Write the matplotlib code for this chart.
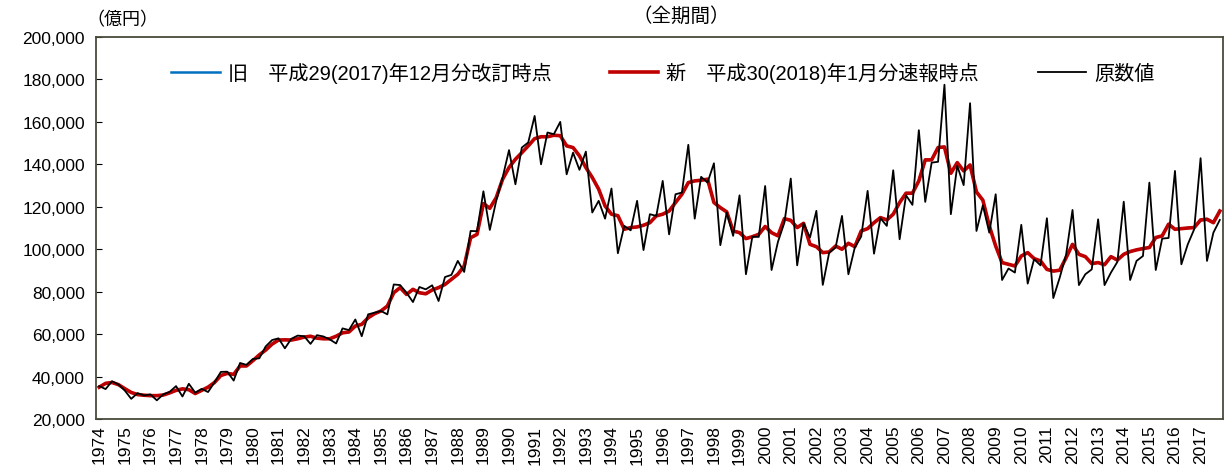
import numpy as np
import matplotlib.pyplot as plt
from matplotlib.ticker import FuncFormatter

# quarterly series, 1974Q1 - 2017Q4 (億円)
years = list(range(1974, 2018))

raw_values = [
    35500, 34100, 37800, 36300, 33400, 29500, 32200, 31100,   # 1974-75
    31600, 28800, 31600, 32800, 35500, 30600, 36600, 32400,   # 1976-77
    34200, 32700, 37300, 42200, 42300, 38100, 46400, 45500,   # 1978-79
    48300, 48600, 54200, 57200, 58000, 53300, 57800, 59300,   # 1980-81
    59000, 55400, 59500, 58900, 57500, 55600, 62700, 61900,   # 1982-83
    66900, 59000, 69300, 70100, 70900, 69300, 83400, 83100,   # 1984-85
    79500, 75100, 82200, 81100, 83000, 75600, 86900, 87900,   # 1986-87
    94500, 89300, 108600, 108500, 127300, 109100, 122800, 133800,  # 1988-89
    146700, 130600, 147900, 150300, 162800, 140000, 155000, 154200,  # 1990-91
    160000, 135300, 145500, 137400, 146000, 117300, 122800, 114400,  # 1992-93
    128600, 98100, 111000, 108900, 122800, 99600, 116500, 115700,   # 1994-95
    132200, 107000, 125900, 126700, 149200, 114400, 134100, 131400,  # 1996-97
    140500, 101900, 117300, 106300, 125400, 88200, 105900, 105800,  # 1998-99
    129800, 90200, 103500, 112500, 133300, 92400, 112200, 105500,   # 2000-01
    118100, 83200, 98400, 100800, 115700, 88200, 100800, 106000,    # 2002-03
    127500, 97900, 114600, 111000, 137200, 104700, 125400, 120900,  # 2004-05
    156100, 122300, 140800, 141200, 177500, 116500, 139300, 130200,  # 2006-07
    168800, 108600, 120700, 107800, 125900, 85500, 90900, 89000,    # 2008-09
    111500, 83800, 95300, 92400, 114600, 77000, 86600, 97500,       # 2010-11
    118500, 83100, 88200, 90500, 114100, 83100, 89000, 94000,       # 2012-13
    122400, 85500, 94500, 96800, 131400, 90200, 105000, 105300,     # 2014-15
    136900, 92900, 102300, 109400, 142900, 94500, 107800, 113800,   # 2016-17
]

sa_new = [
    35000, 36800, 37200, 36200, 34300, 32500, 31500, 31200,
    31000, 31000, 31300, 32300, 33500, 34200, 33800, 32000,
    33500, 35000, 37200, 40500, 41500, 41000, 45000, 45000,
    47500, 50200, 52500, 55300, 57200, 57300, 57200, 57800,
    58600, 59000, 58100, 57800, 57800, 59000, 60600, 61000,
    63800, 64600, 67700, 69600, 70900, 73200, 79500, 81900,
    78700, 81100, 79500, 79000, 80800, 81900, 83400, 85800,
    88200, 92100, 105400, 107000, 121500, 119300, 124300, 133000,
    138500, 142400, 145500, 148700, 152100, 153000, 153000, 153700,
    153500, 148700, 147900, 144000, 138500, 133800, 128300, 120400,
    116500, 115800, 109400, 110200, 110500, 111300, 112500, 115700,
    116500, 118000, 122000, 125900, 131400, 132200, 132500, 133000,
    122000, 119600, 117600, 108600, 107800, 105000, 105900, 107000,
    110700, 107800, 106300, 114400, 113600, 110200, 112200, 102300,
    101200, 98400, 98700, 101500, 100000, 102800, 101200, 108600,
    109700, 112500, 114900, 113800, 116500, 122000, 126400, 126400,
    132200, 142100, 142100, 147900, 148200, 135800, 140800, 136900,
    139700, 127000, 123100, 111000, 101500, 93700, 92900, 92100,
    96800, 98400, 95600, 94500, 90500, 89700, 90100, 96000,
    102300, 97600, 96500, 93200, 93700, 92700, 96500, 94900,
    97600, 98900, 99700, 100300, 100800, 105500, 106300, 111800,
    109400, 109700, 110000, 110200, 113800, 114100, 112500, 118000,
]

# old estimate: identical up to 2016, slightly different in 2017
sa_old = sa_new[:-4] + [113500, 114300, 112800, 117600]

label_old = "旧　平成29(2017)年12月分改訂時点"
label_new = "新　平成30(2018)年1月分速報時点"
label_raw = "原数値"

plt.rcParams['font.family'] = ['Liberation Sans', 'Noto Sans CJK JP']

fig = plt.figure(figsize=(12.26, 4.77), dpi=100)
ax = fig.add_axes([96 / 1226, 1 - 420 / 477, (1223 - 96) / 1226, (420 - 38) / 477])

x = np.arange(len(raw_values))
ax.plot(x, sa_old, color="#0070C0", lw=1.8, label=label_old)
ax.plot(x, sa_new, color="#C00000", lw=2.6, label=label_new)
ax.plot(x, raw_values, color="black", lw=1.3, label=label_raw)

ax.set_xlim(-0.5, len(raw_values) - 0.5)
ax.set_ylim(20000, 200000)
ax.set_yticks(np.arange(20000, 200001, 20000))
ax.yaxis.set_major_formatter(FuncFormatter(lambda v, p: f"{int(v):,}"))
ax.set_xticks(np.arange(0, len(raw_values), 4))
ax.set_xticklabels([str(y) for y in years], rotation=90)

ax.tick_params(axis="y", direction="in", length=4, labelsize=12.5, pad=8)
ax.tick_params(axis="x", length=0, labelsize=12.5, pad=4)
for s in ax.spines.values():
    s.set_color("#4a4a3c")
    s.set_linewidth(1.3)

ax.legend(loc="center", bbox_to_anchor=(0.503, 0.906), ncol=3, frameon=False,
          fontsize=14.5, handlelength=2.4, handletextpad=0.4, columnspacing=2.9)

fig.text(681 / 1226, 1 - 16 / 477, "（全期間）", ha="center", va="center", fontsize=14)
fig.text(86 / 1226, 1 - 21 / 477, "（億円）", ha="left", va="center", fontsize=13)

fig.savefig("out.png", dpi=100)
